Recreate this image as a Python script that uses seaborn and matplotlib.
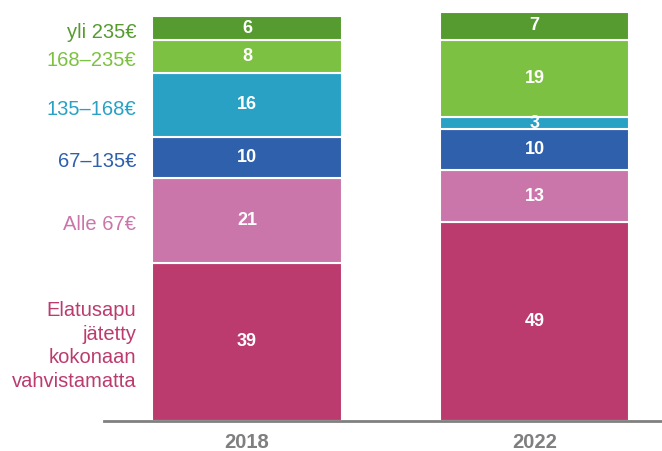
import numpy as np
import matplotlib
matplotlib.use("Agg")
import matplotlib.pyplot as plt
import matplotlib.transforms as mtransforms
import seaborn as sns

# data (share of cases, %), bottom segment first
years = ["2018", "2022"]
groups = ["Elatusapu\njätetty\nkokonaan\nvahvistamatta", "Alle 67€", "67–135€",
          "135–168€", "168–235€", "yli 235€"]
vals_2018 = [39, 21, 10, 16, 8, 6]
vals_2022 = [49, 13, 10, 3, 19, 7]
colors = ["#BC3B6F", "#CA76AA", "#2E60AC", "#28A1C4", "#7DC142", "#559B2F"]

sns.set_style("white")
plt.rcParams["font.family"] = ["Liberation Sans", "DejaVu Sans"]

fig = plt.figure(figsize=(6.62, 4.51), dpi=100)
ax = fig.add_axes([104 / 662, 30 / 451, 558 / 662, 410 / 451])

data = np.array([vals_2018, vals_2022])
bottom = np.zeros(len(years))
for i, (g, c) in enumerate(zip(groups, colors)):
    sns.barplot(x=years, y=data[:, i], bottom=bottom, color=c, saturation=1,
                width=0.66, edgecolor="white", linewidth=1.5, ax=ax)
    for j in range(len(years)):
        ax.text(j, bottom[j] + data[j, i] / 2, str(data[j, i]), ha="center", va="center",
                color="white", fontsize=13, fontweight="bold")
    bottom = bottom + data[:, i]

# category labels beside the 2018 bar
shift = mtransforms.offset_copy(ax.transData, fig=fig, x=0, y=-3, units="points")
cum = np.cumsum([0] + vals_2018)
for i, (g, c) in enumerate(zip(groups, colors)):
    ax.text(-0.385, (cum[i] + cum[i + 1]) / 2, g, ha="right", va="center", color=c,
            fontsize=14.5, transform=shift, linespacing=1.3)

ax.set_xlim(-0.497, 1.443)
ax.set_ylim(0, 101.2)
ax.set_yticks([])
for s in ["left", "right", "top"]:
    ax.spines[s].set_visible(False)
ax.spines["bottom"].set_color("#808080")
ax.spines["bottom"].set_linewidth(2)
ax.tick_params(axis="x", length=0, pad=9, labelsize=14.5, labelcolor="#7F7F7F")
for t in ax.get_xticklabels():
    t.set_fontweight("bold")
ax.set_xlabel("")

fig.savefig("out.png", dpi=100)
